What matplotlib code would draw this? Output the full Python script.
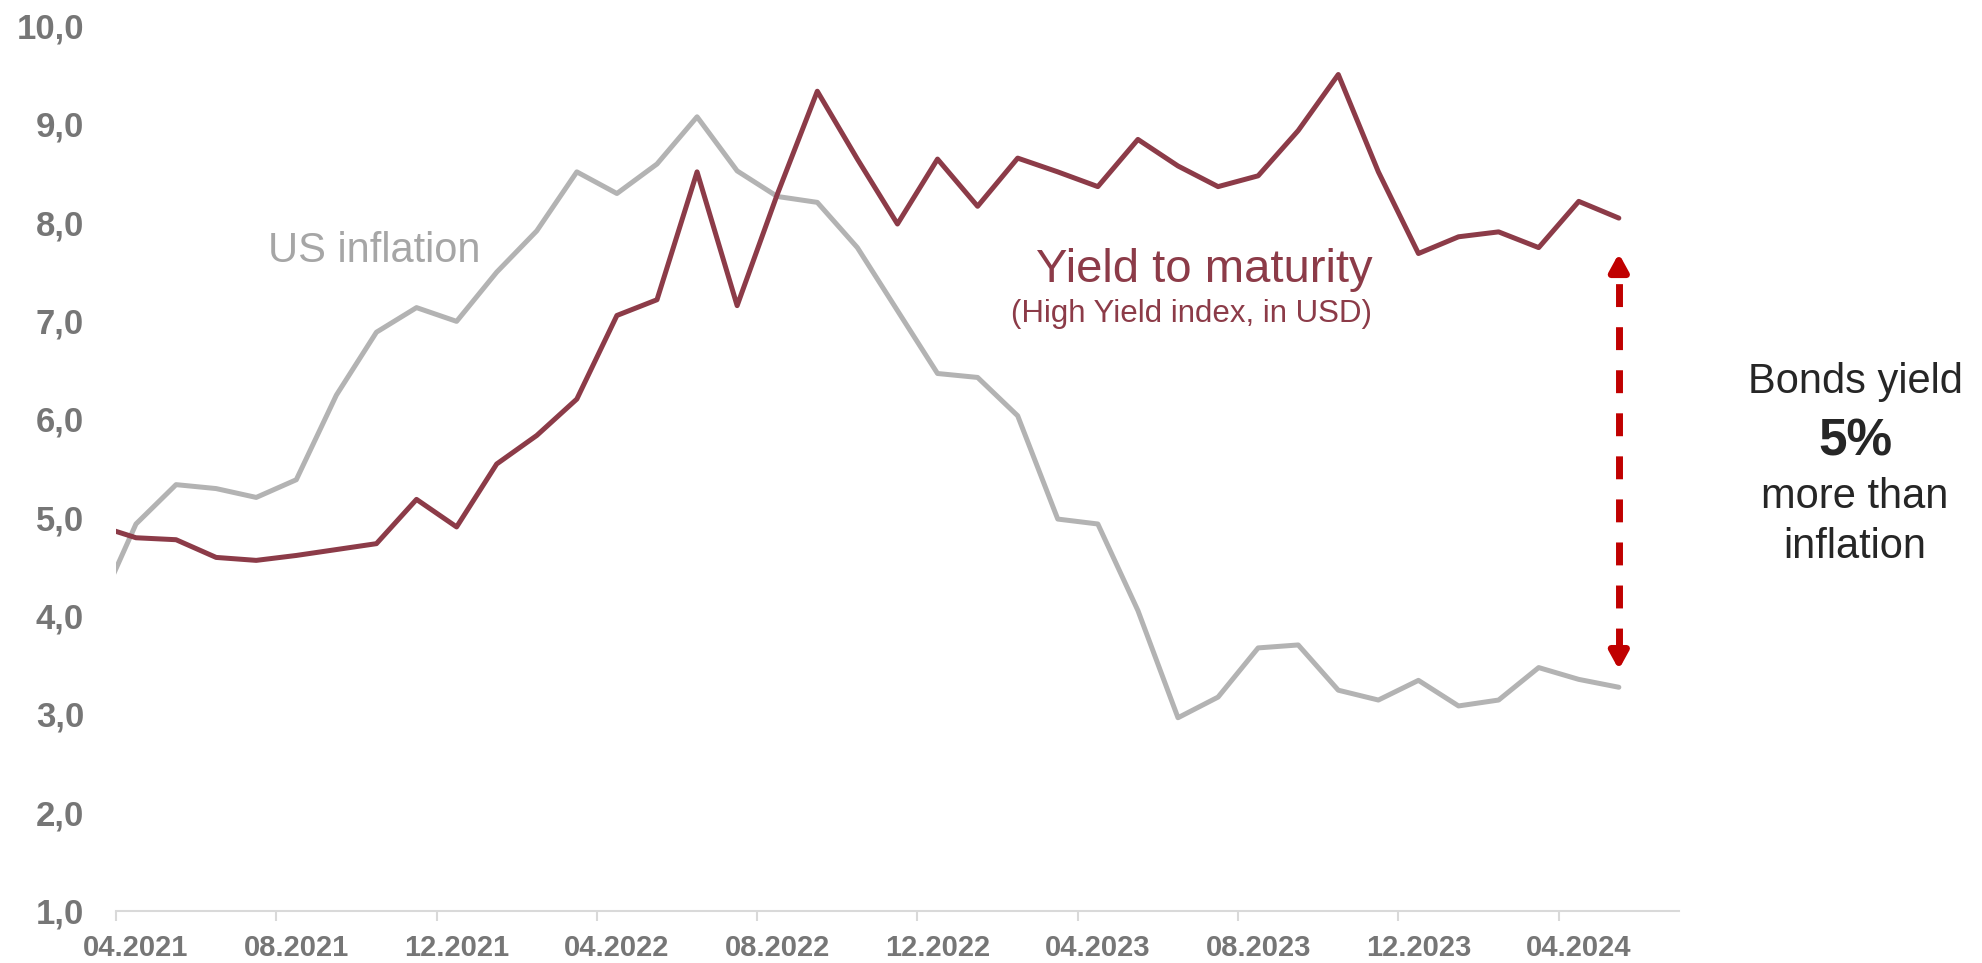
import numpy as np
import pandas as pd
import matplotlib
matplotlib.use("Agg")
import matplotlib.pyplot as plt
from matplotlib.ticker import FixedLocator, FuncFormatter

plt.rcParams['font.family'] = ['Liberation Sans', 'DejaVu Sans']

# ---- data (monthly; first month is clipped at the left edge) ----
months = list(pd.period_range('2021-03', '2024-05', freq='M').strftime('%m.%Y'))
us_inflation = [4.02, 4.93, 5.33, 5.29, 5.20, 5.38, 6.24, 6.88, 7.13, 6.99,
                7.49, 7.91, 8.51, 8.29, 8.59, 9.07, 8.52, 8.26, 8.20, 7.74,
                7.10, 6.46, 6.42, 6.03, 4.98, 4.93, 4.05, 2.96, 3.17, 3.67,
                3.70, 3.24, 3.14, 3.34, 3.08, 3.14, 3.47, 3.35, 3.27]
yield_to_maturity = [4.92, 4.79, 4.77, 4.59, 4.56, 4.61, 4.67, 4.73, 5.18, 4.90,
                     5.54, 5.83, 6.20, 7.05, 7.21, 8.51, 7.15, 8.28, 9.33, 8.64,
                     7.98, 8.64, 8.16, 8.65, 8.51, 8.36, 8.84, 8.57, 8.36, 8.47,
                     8.93, 9.50, 8.51, 7.68, 7.85, 7.90, 7.74, 8.21, 8.04]
tick_labels = ['04.2021', '08.2021', '12.2021', '04.2022', '08.2022',
               '12.2022', '04.2023', '08.2023', '12.2023', '04.2024']
y_ticks = [1, 2, 3, 4, 5, 6, 7, 8, 9, 10]
spread_bounds = [3.45, 7.68]

GRAY_LINE = '#B3B3B3'
RED_LINE = '#8C3B48'
ARROW_RED = '#C00000'
TICK_GRAY = '#767676'
AXIS_GRAY = '#D9D9D9'

fig = plt.figure(figsize=(19.82, 9.63), dpi=100)
ax = fig.add_axes([0.0585, 0.0545, 0.7886, 0.9192])

x = np.arange(len(months)) - 0.5  # category centres; 04.2021 centred at 0.5

ax.plot(x, us_inflation, color=GRAY_LINE, lw=3.6, solid_joinstyle='round',
        solid_capstyle='round', zorder=3)
ax.plot(x, yield_to_maturity, color=RED_LINE, lw=3.6, solid_joinstyle='round',
        solid_capstyle='round', zorder=4)

ax.set_xlim(0, 39)
ax.set_ylim(1, 10)

# x axis: labels at category centres, tick marks at category boundaries
label_pos = [months.index(m) - 0.5 for m in tick_labels]
ax.xaxis.set_major_locator(FixedLocator(label_pos))
ax.set_xticklabels(tick_labels)
ax.xaxis.set_minor_locator(FixedLocator([p - 0.5 for p in label_pos]))
ax.tick_params(axis='x', which='major', length=0, pad=17, labelsize=21,
               labelcolor=TICK_GRAY)
ax.tick_params(axis='x', which='minor', length=7, width=1.5, color=AXIS_GRAY,
               direction='out')
for lab in ax.get_xticklabels():
    lab.set_fontweight('bold')

ax.yaxis.set_major_locator(FixedLocator(y_ticks))
ax.yaxis.set_major_formatter(FuncFormatter(lambda v, p: f"{v:.1f}".replace('.', ',')))
ax.tick_params(axis='y', length=0, pad=23, labelsize=25, labelcolor=TICK_GRAY)
for lab in ax.get_yticklabels():
    lab.set_fontweight('bold')

for s in ['top', 'right', 'left']:
    ax.spines[s].set_visible(False)
ax.spines['bottom'].set_color(AXIS_GRAY)
ax.spines['bottom'].set_linewidth(1.5)

# series labels
ax.text(3.79, 7.59, 'US inflation', color='#A6A6A6', fontsize=30,
        ha='left', va='baseline')
ax.text(31.35, 7.39, 'Yield to maturity', color=RED_LINE, fontsize=34,
        ha='right', va='baseline')
ax.text(31.35, 6.98, '(High Yield index, in USD)', color=RED_LINE, fontsize=22.5,
        ha='right', va='baseline')

# double-headed dashed arrow at the last month
xa = x[-1]
head = 0.19
ax.plot([xa, xa], [spread_bounds[0] + head, spread_bounds[1] - head],
        color=ARROW_RED, lw=5, ls=(0, (3.3, 2.9)), solid_capstyle='butt',
        dash_capstyle='butt', zorder=5)
for tip, base in [(spread_bounds[1], spread_bounds[1] - head - 0.02),
                  (spread_bounds[0], spread_bounds[0] + head + 0.02)]:
    ax.annotate('', xy=(xa, tip), xytext=(xa, base),
                arrowprops=dict(arrowstyle='-|>,head_length=1.0,head_width=0.55',
                                color=ARROW_RED, lw=5, shrinkA=0, shrinkB=0),
                zorder=6)

# right-hand note
fig.text(0.936, 0.592, 'Bonds yield', ha='center', va='baseline', fontsize=30,
         color='#262626')
fig.text(0.936, 0.5265, '5%', ha='center', va='baseline', fontsize=37,
         fontweight='bold', color='#262626')
fig.text(0.936, 0.4725, 'more than', ha='center', va='baseline', fontsize=30,
         color='#262626')
fig.text(0.936, 0.4206, 'inflation', ha='center', va='baseline', fontsize=30,
         color='#262626')

fig.savefig('out.png', dpi=100)
